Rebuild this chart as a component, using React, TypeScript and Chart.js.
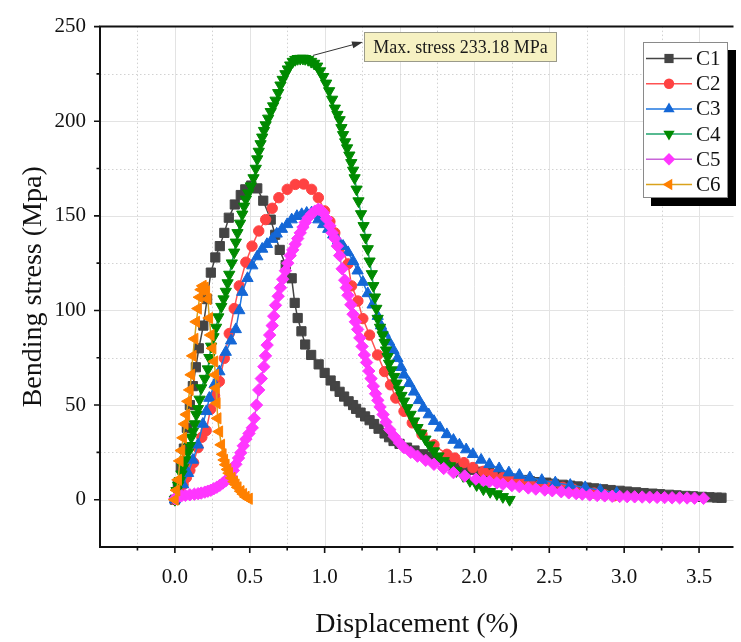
import React, { useEffect, useRef } from 'react';
import { Chart, registerables } from 'chart.js';

Chart.register(...registerables);

const FONT = "'Liberation Serif', 'Times New Roman', serif";

// ---------- data ----------
const seriesNames = ['C1', 'C2', 'C3', 'C4', 'C5', 'C6'];

const c1X = [0, 0.02, 0.04, 0.06, 0.08, 0.10, 0.12, 0.14, 0.16, 0.19, 0.215, 0.24, 0.27, 0.30, 0.33, 0.36, 0.40, 0.44, 0.47, 0.51, 0.55, 0.59, 0.64, 0.67, 0.70, 0.74, 0.78, 0.80, 0.82, 0.845, 0.87, 0.91, 0.96, 1.0, 1.04, 1.07, 1.10, 1.13, 1.16, 1.19, 1.21, 1.24, 1.27, 1.30, 1.33, 1.36, 1.40, 1.43, 1.46, 1.50, 1.55, 1.60, 1.66, 1.72, 1.77, 1.83, 1.88, 1.93, 1.99, 2.04, 2.10, 2.15, 2.21, 2.26, 2.32, 2.37, 2.43, 2.48, 2.53, 2.59, 2.64, 2.69, 2.75, 2.80, 2.86, 2.91, 2.97, 3.02, 3.08, 3.13, 3.19, 3.24, 3.30, 3.35, 3.41, 3.46, 3.52, 3.57, 3.62, 3.65];
const c1Y = [0, 8, 17, 27, 38, 50, 60, 70, 80, 92, 106, 120, 128, 134, 141, 149, 156, 161, 164, 166, 164.5, 158, 148, 140, 132, 124, 117, 104, 96, 89, 82, 76.5, 71.5, 67, 63, 60, 57, 54.5, 52, 50, 48, 46, 44, 42, 40, 37.5, 35, 33, 31, 29.5, 27.5, 26, 24, 22.5, 21, 19.5, 18.2, 17, 15.8, 14.8, 14, 13, 12, 11, 10.4, 9.8, 9.3, 9, 8.4, 7.9, 7.4, 7, 6.4, 6, 5.5, 5.1, 4.7, 4.3, 3.9, 3.5, 3.2, 2.9, 2.6, 2.3, 2.0, 1.8, 1.5, 1.3, 1.1, 1.0];

const c2X = [0, 0.03, 0.055, 0.077, 0.10, 0.125, 0.154, 0.18, 0.209, 0.238, 0.265, 0.297, 0.33, 0.363, 0.396, 0.43, 0.474, 0.515, 0.56, 0.606, 0.65, 0.694, 0.75, 0.804, 0.86, 0.913, 0.958, 1.0, 1.035, 1.068, 1.11, 1.156, 1.18, 1.222, 1.255, 1.30, 1.354, 1.40, 1.44, 1.475, 1.53, 1.585, 1.65, 1.73, 1.816, 1.87, 1.93, 1.99, 2.06, 2.12, 2.19, 2.25, 2.31, 2.37, 2.44, 2.51, 2.59, 2.66, 2.73, 2.80, 2.87, 2.93];
const c2Y = [0, 4, 8, 11.7, 15.5, 19.6, 27.5, 33, 36.5, 47.8, 55, 62.5, 74.7, 87.8, 101, 113, 125.5, 134, 142, 148, 154, 159.6, 164, 166.6, 166.8, 164, 159.6, 152.6, 147, 141, 134, 124.6, 113, 105, 95.7, 87, 76.5, 67.7, 60.7, 53.7, 46.7, 40.6, 34.5, 29, 24, 22, 19.6, 17, 15, 13.3, 11.7, 10.6, 9.7, 9, 8, 7.3, 6.5, 5.5, 4.5, 3.5, 2.6, 2];

const c3X = [0, 0.028, 0.055, 0.088, 0.12, 0.154, 0.187, 0.21, 0.23, 0.265, 0.297, 0.34, 0.375, 0.407, 0.43, 0.45, 0.485, 0.517, 0.55, 0.583, 0.615, 0.65, 0.68, 0.715, 0.75, 0.78, 0.815, 0.847, 0.88, 0.913, 0.935, 0.958, 0.99, 1.024, 1.057, 1.09, 1.123, 1.156, 1.19, 1.22, 1.255, 1.288, 1.32, 1.354, 1.376, 1.40, 1.43, 1.46, 1.486, 1.51, 1.53, 1.565, 1.597, 1.63, 1.66, 1.695, 1.73, 1.77, 1.816, 1.86, 1.90, 1.945, 1.99, 2.045, 2.10, 2.165, 2.23, 2.30, 2.37, 2.45, 2.54, 2.64, 2.74, 2.84, 2.95];
const c3Y = [0, 4, 8, 14, 21, 29, 40, 46.7, 53.7, 61, 67.7, 78, 84, 90, 100, 109.7, 117, 123.7, 128.5, 132.5, 135, 137.7, 140.5, 143, 145.5, 148, 149.8, 150.8, 151.5, 151.7, 150.5, 148, 145.5, 143, 140, 136.8, 134, 130.7, 126, 121, 115, 109, 103, 97, 92, 88, 83.5, 79, 74.7, 70, 66, 61.5, 57, 52.5, 48.5, 45, 41.5, 38, 34.5, 31.5, 29, 26.5, 24, 21, 18.7, 16.5, 14.3, 13, 11.7, 10.3, 9, 7.7, 6.5, 5, 3.5];

const c4X = [0, 0.011, 0.022, 0.033, 0.044, 0.055, 0.07, 0.088, 0.10, 0.11, 0.12, 0.132, 0.143, 0.154, 0.165, 0.176, 0.20, 0.22, 0.23, 0.242, 0.258, 0.275, 0.29, 0.31, 0.325, 0.34, 0.352, 0.363, 0.38, 0.396, 0.407, 0.418, 0.435, 0.45, 0.462, 0.474, 0.49, 0.507, 0.525, 0.54, 0.55, 0.56, 0.572, 0.583, 0.595, 0.606, 0.623, 0.64, 0.656, 0.672, 0.69, 0.705, 0.72, 0.738, 0.754, 0.77, 0.787, 0.804, 0.82, 0.837, 0.855, 0.87, 0.89, 0.91, 0.93, 0.95, 0.97, 0.99, 1.01, 1.03, 1.05, 1.068, 1.085, 1.10, 1.112, 1.123, 1.137, 1.15, 1.165, 1.178, 1.19, 1.20, 1.213, 1.226, 1.243, 1.26, 1.274, 1.288, 1.30, 1.315, 1.325, 1.336, 1.345, 1.354, 1.37, 1.387, 1.40, 1.41, 1.42, 1.43, 1.447, 1.464, 1.48, 1.497, 1.513, 1.53, 1.552, 1.574, 1.597, 1.62, 1.646, 1.673, 1.70, 1.73, 1.76, 1.795, 1.837, 1.88, 1.925, 1.97, 2.015, 2.06, 2.105, 2.15, 2.19, 2.235];
const c4Y = [0, 4.7, 7.5, 10, 13.5, 17, 21, 25, 28.5, 33, 36, 40, 45, 48, 53, 59, 64, 69, 75, 81, 86, 91, 96.5, 102, 106, 110, 114.5, 119, 125, 130.7, 136, 141, 146, 150.8, 155, 158.7, 162, 165.7, 170, 175, 180, 184, 188, 191.5, 195, 198, 201.5, 205, 208, 211, 215, 219, 222, 225, 227.5, 229.6, 231.5, 232.5, 233, 233.1, 233.18, 233, 232.5, 231.5, 230.5, 229, 226.5, 223.5, 220, 216, 211.5, 206.8, 203.5, 200.7, 196.5, 192.8, 189, 185.8, 182, 178, 174, 170, 164, 157.8, 151, 144.7, 138.5, 132.5, 126, 119.3, 113, 107, 101, 95.7, 91, 87, 83, 79, 75.5, 72, 68.5, 65, 61.5, 58, 55, 52, 48.5, 45, 41.5, 38, 35, 31.9, 28.8, 25.7, 23, 20.5, 17.8, 15.2, 12.6, 10, 7.8, 5.6, 4.2, 3, 1.5, 0];

const c5X = [0, 0.022, 0.044, 0.07, 0.10, 0.13, 0.155, 0.176, 0.20, 0.22, 0.24, 0.26, 0.28, 0.30, 0.32, 0.34, 0.36, 0.374, 0.39, 0.407, 0.425, 0.44, 0.457, 0.474, 0.495, 0.517, 0.53, 0.545, 0.56, 0.577, 0.594, 0.605, 0.616, 0.633, 0.65, 0.66, 0.672, 0.69, 0.705, 0.72, 0.738, 0.754, 0.77, 0.787, 0.804, 0.82, 0.837, 0.855, 0.87, 0.89, 0.913, 0.935, 0.958, 0.975, 0.99, 1.012, 1.035, 1.05, 1.068, 1.085, 1.10, 1.117, 1.134, 1.145, 1.156, 1.175, 1.19, 1.205, 1.22, 1.235, 1.25, 1.265, 1.28, 1.295, 1.31, 1.325, 1.34, 1.355, 1.37, 1.39, 1.41, 1.435, 1.464, 1.50, 1.53, 1.575, 1.62, 1.675, 1.73, 1.795, 1.86, 1.935, 2.01, 2.06, 2.10, 2.15, 2.19, 2.25, 2.30, 2.36, 2.41, 2.47, 2.52, 2.58, 2.63, 2.68, 2.72, 2.77, 2.82, 2.87, 2.92, 2.97, 3.02, 3.07, 3.12, 3.17, 3.22, 3.27, 3.32, 3.37, 3.42, 3.47, 3.53];
const c5Y = [0.5, 1.5, 2, 2.3, 2.6, 2.9, 3.2, 3.5, 4, 4.5, 5, 5.8, 6.6, 7.6, 8.8, 10, 11.5, 12.6, 15.5, 18.7, 22, 24.8, 28.5, 32, 35, 38, 43, 50, 58, 64, 70.3, 76, 81.7, 87, 92, 97, 102.7, 107.5, 112, 116.5, 121, 125, 129, 132, 135, 138, 141, 144, 146.5, 149, 151, 152.5, 153.5, 153, 151.7, 148.5, 144.7, 141, 138, 134, 129, 122, 116, 112, 108, 103, 98, 94, 90, 85.5, 81, 76.5, 72.5, 68, 64, 60, 56, 52.5, 49, 45, 41, 37, 33.5, 30, 27.5, 25, 23, 20.8, 18.7, 16.5, 14.3, 12.5, 10.9, 10.1, 9.5, 8.9, 8.2, 7.5, 6.9, 6.2, 5.6, 5.1, 4.7, 4.2, 3.6, 3.2, 2.9, 2.5, 2.2, 2.0, 1.8, 1.7, 1.6, 1.5, 1.4, 1.3, 1.2, 1.1, 1.0, 0.95, 0.9, 0.8, 0.7];

const c6X = [0, 0.011, 0.022, 0.033, 0.044, 0.055, 0.066, 0.077, 0.088, 0.10, 0.11, 0.12, 0.132, 0.143, 0.155, 0.165, 0.176, 0.187, 0.20, 0.21, 0.22, 0.23, 0.24, 0.252, 0.264, 0.27, 0.275, 0.28, 0.286, 0.297, 0.31, 0.32, 0.33, 0.34, 0.352, 0.363, 0.38, 0.396, 0.407, 0.42, 0.44, 0.457, 0.474, 0.495];
const c6Y = [0, 5, 10.5, 20.5, 26, 32.7, 40, 45, 52, 58, 66, 76, 85, 94, 101, 107, 111, 113, 112, 110, 106, 96, 87, 80, 73, 66, 59, 51, 43, 36, 29, 24, 21, 18.5, 16, 14, 11.5, 9.5, 8, 6.5, 4.5, 3, 1.5, 0.5];

const xTickLabels = ['0.0', '0.5', '1.0', '1.5', '2.0', '2.5', '3.0', '3.5'];
const yTickLabels = ['0', '50', '100', '150', '200', '250'];
const xTitle = 'Displacement (%)';
const yTitle = 'Bending stress (Mpa)';
const annotationText = 'Max. stress 233.18 MPa';
const peakX = 0.855;
const peakY = 233.18;

const X_MIN = -0.5;
const X_MAX = 3.73;
const Y_MIN = -25;
const Y_MAX = 250;

// ---------- styles ----------
type MarkerStyle = 'rect' | 'circle' | 'triangle' | 'rectRot';
const seriesStyles: { marker: string; line: string; pointStyle: MarkerStyle; rotation: number; radius: number }[] = [
  { marker: '#444444', line: '#444444', pointStyle: 'rect', rotation: 0, radius: 6.5 },
  { marker: '#ff4242', line: '#ff5252', pointStyle: 'circle', rotation: 0, radius: 5.2 },
  { marker: '#1467d6', line: '#2077e0', pointStyle: 'triangle', rotation: 0, radius: 6.5 },
  { marker: '#008a00', line: '#1fa36c', pointStyle: 'triangle', rotation: 180, radius: 6.5 },
  { marker: '#ff36ff', line: '#c865d8', pointStyle: 'rectRot', rotation: 0, radius: 6.2 },
  { marker: '#ff8000', line: '#d9a21c', pointStyle: 'triangle', rotation: -90, radius: 6.5 },
];

const seriesX = [c1X, c2X, c3X, c4X, c5X, c6X];
const seriesY = [c1Y, c2Y, c3Y, c4Y, c5Y, c6Y];

function drawMarker(ctx: CanvasRenderingContext2D, style: MarkerStyle, rotationDeg: number, x: number, y: number, r: number) {
  ctx.beginPath();
  const rad = (rotationDeg * Math.PI) / 180;
  if (style === 'circle') {
    ctx.arc(x, y, r, 0, Math.PI * 2);
  } else if (style === 'rect') {
    const s = r * Math.SQRT1_2;
    ctx.rect(x - s, y - s, 2 * s, 2 * s);
  } else if (style === 'rectRot') {
    ctx.moveTo(x - r, y);
    ctx.lineTo(x, y - r);
    ctx.lineTo(x + r, y);
    ctx.lineTo(x, y + r);
    ctx.closePath();
  } else {
    for (let k = 0; k < 3; k++) {
      const a = rad + (k * 2 * Math.PI) / 3;
      const px = x + Math.sin(a) * r;
      const py = y - Math.cos(a) * r;
      if (k === 0) ctx.moveTo(px, py);
      else ctx.lineTo(px, py);
    }
    ctx.closePath();
  }
  ctx.fill();
}

const gridPlugin = {
  id: 'customGrid',
  beforeDatasetsDraw(chart: any) {
    const { ctx, chartArea: a, scales } = chart;
    const xs = scales.x;
    const ys = scales.y;
    ctx.save();
    ctx.lineWidth = 1;
    for (let k = Math.ceil(X_MIN / 0.25) + 1; k * 0.25 <= X_MAX + 1e-9; k++) {
      const px = Math.round(xs.getPixelForValue(k * 0.25)) + 0.5;
      const major = k % 2 === 0;
      ctx.strokeStyle = major ? '#e3e3e3' : '#d2d2d2';
      ctx.setLineDash(major ? [] : [1.5, 2.5]);
      ctx.beginPath();
      ctx.moveTo(px, a.top);
      ctx.lineTo(px, a.bottom);
      ctx.stroke();
    }
    for (let k = Math.ceil(Y_MIN / 25) + 1; k * 25 < Y_MAX - 1e-9; k++) {
      const py = Math.round(ys.getPixelForValue(k * 25)) + 0.5;
      const major = k % 2 === 0;
      ctx.strokeStyle = major ? '#e3e3e3' : '#d2d2d2';
      ctx.setLineDash(major ? [] : [1.5, 2.5]);
      ctx.beginPath();
      ctx.moveTo(a.left, py);
      ctx.lineTo(a.right, py);
      ctx.stroke();
    }
    ctx.restore();
  },
};

const axesPlugin = {
  id: 'customAxes',
  afterDatasetsDraw(chart: any) {
    const { ctx, chartArea: a, scales } = chart;
    const xs = scales.x;
    const ys = scales.y;
    ctx.save();
    ctx.strokeStyle = '#111';
    ctx.lineWidth = 2;
    ctx.beginPath();
    ctx.moveTo(a.left, a.top);
    ctx.lineTo(a.right, a.top);
    ctx.moveTo(a.left, a.top - 1);
    ctx.lineTo(a.left, a.bottom + 1);
    ctx.moveTo(a.left - 1, a.bottom);
    ctx.lineTo(a.right, a.bottom);
    ctx.stroke();
    ctx.lineWidth = 1.6;
    ctx.beginPath();
    for (let k = Math.ceil(X_MIN / 0.25) + 1; k * 0.25 <= X_MAX + 1e-9; k++) {
      const px = xs.getPixelForValue(k * 0.25);
      const len = k % 2 === 0 ? 6 : 3.5;
      ctx.moveTo(px, a.bottom);
      ctx.lineTo(px, a.bottom + len);
    }
    for (let k = 0; k * 25 <= Y_MAX + 1e-9; k++) {
      const py = ys.getPixelForValue(k * 25);
      const len = k % 2 === 0 ? 6 : 3.5;
      ctx.moveTo(a.left, py);
      ctx.lineTo(a.left - len, py);
    }
    ctx.stroke();
    ctx.restore();
  },
  afterDraw(chart: any) {
    const { ctx, scales } = chart;
    ctx.save();
    // annotation
    const bx = 364, by = 32, bw = 193, bh = 30;
    const sx = scales.x.getPixelForValue(peakX) + 10;
    const sy = scales.y.getPixelForValue(peakY) - 3;
    const tx = bx - 1, ty = by + 10;
    ctx.strokeStyle = '#333';
    ctx.fillStyle = '#333';
    ctx.lineWidth = 1;
    const ang = Math.atan2(ty - sy, tx - sx);
    ctx.beginPath();
    ctx.moveTo(sx, sy);
    ctx.lineTo(tx - Math.cos(ang) * 8, ty - Math.sin(ang) * 8);
    ctx.stroke();
    ctx.beginPath();
    ctx.moveTo(tx, ty);
    ctx.lineTo(tx - Math.cos(ang) * 11 - Math.sin(ang) * 3.5, ty - Math.sin(ang) * 11 + Math.cos(ang) * 3.5);
    ctx.lineTo(tx - Math.cos(ang) * 11 + Math.sin(ang) * 3.5, ty - Math.sin(ang) * 11 - Math.cos(ang) * 3.5);
    ctx.closePath();
    ctx.fill();
    ctx.fillStyle = '#f6f1c2';
    ctx.fillRect(bx, by, bw, bh);
    ctx.strokeStyle = '#9a9a8a';
    ctx.strokeRect(bx + 0.5, by + 0.5, bw - 1, bh - 1);
    ctx.fillStyle = '#1a1a1a';
    ctx.font = `18px ${FONT}`;
    ctx.textAlign = 'center';
    ctx.textBaseline = 'middle';
    ctx.fillText(annotationText, bx + bw / 2, by + bh / 2 + 1);

    // legend
    const lx = 643, ly = 42, lw = 85, lh = 156;
    ctx.fillStyle = '#000';
    ctx.fillRect(lx + 8, ly + 8, lw, lh);
    ctx.fillStyle = '#fff';
    ctx.fillRect(lx, ly, lw, lh);
    ctx.strokeStyle = '#8a8a8a';
    ctx.lineWidth = 1;
    ctx.strokeRect(lx + 0.5, ly + 0.5, lw - 1, lh - 1);
    ctx.textAlign = 'left';
    ctx.font = `21px ${FONT}`;
    seriesNames.forEach((name, i) => {
      const st = seriesStyles[i];
      const yy = 58.5 + i * 25.2;
      ctx.strokeStyle = st.line;
      ctx.lineWidth = 1.5;
      ctx.beginPath();
      ctx.moveTo(646, yy);
      ctx.lineTo(692, yy);
      ctx.stroke();
      ctx.fillStyle = st.marker;
      drawMarker(ctx, st.pointStyle, st.rotation, 669, yy, st.radius);
      ctx.fillStyle = '#111';
      ctx.fillText(name, 696, yy + 1);
    });
    ctx.restore();
  },
};

export default function App() {
  const ref = useRef<HTMLCanvasElement>(null);
  useEffect(() => {
    const canvas = ref.current;
    if (!canvas) return;
    const datasets = seriesNames.map((name, i) => {
      const st = seriesStyles[i];
      return {
        label: name,
        data: seriesX[i].map((x, j) => ({ x, y: seriesY[i][j] })),
        showLine: true,
        borderColor: st.line,
        borderWidth: 1.5,
        backgroundColor: st.marker,
        pointBackgroundColor: st.marker,
        pointBorderColor: st.marker,
        pointBorderWidth: 1,
        pointStyle: st.pointStyle,
        pointRotation: st.rotation,
        pointRadius: st.radius,
        pointHoverRadius: st.radius,
        order: seriesNames.length - i,
        tension: 0,
      };
    });
    const chart = new Chart(canvas, {
      type: 'scatter',
      data: { datasets } as any,
      options: {
        responsive: false,
        animation: false,
        events: [],
        layout: { padding: { top: 23, left: 0, right: 0, bottom: 0 } },
        plugins: { legend: { display: false }, tooltip: { enabled: false } },
        scales: {
          x: {
            type: 'linear',
            min: X_MIN,
            max: X_MAX,
            afterFit: (s: any) => { s.height = 95; },
            grid: { display: false, drawTicks: false },
            border: { display: false },
            ticks: {
              stepSize: 0.25,
              autoSkip: false,
              includeBounds: false,
              maxRotation: 0,
              padding: 18,
              color: '#111',
              font: { family: FONT, size: 21 },
              callback: (value: any) => {
                const v = Number(value) * 2;
                const q = Math.round(v);
                if (Math.abs(v - q) > 1e-6 || q < 0 || q >= xTickLabels.length) return '';
                return xTickLabels[q];
              },
            },
            title: { display: true, text: xTitle, color: '#111', font: { family: FONT, size: 28 }, padding: { top: 0, bottom: 1 } },
          },
          y: {
            type: 'linear',
            min: Y_MIN,
            max: Y_MAX,
            afterFit: (s: any) => { s.width = 100; },
            grid: { display: false, drawTicks: false },
            border: { display: false },
            ticks: {
              stepSize: 25,
              autoSkip: false,
              includeBounds: false,
              padding: 14,
              color: '#111',
              font: { family: FONT, size: 21 },
              callback: (value: any) => {
                const v = Number(value) / 50;
                const q = Math.round(v);
                if (Math.abs(v - q) > 1e-6 || q < 0 || q >= yTickLabels.length) return '';
                return yTickLabels[q];
              },
            },
            title: { display: true, text: yTitle, color: '#111', font: { family: FONT, size: 28 }, padding: { top: 17, bottom: 0 } },
          },
        },
      } as any,
      plugins: [gridPlugin, axesPlugin],
    });
    return () => chart.destroy();
  }, []);
  return (
    <div style={{ position: 'absolute', left: 0, top: 0, width: 741, height: 642 }}>
      <canvas ref={ref} width={741} height={642} style={{ display: 'block', width: 741, height: 642 }} />
    </div>
  );
}
